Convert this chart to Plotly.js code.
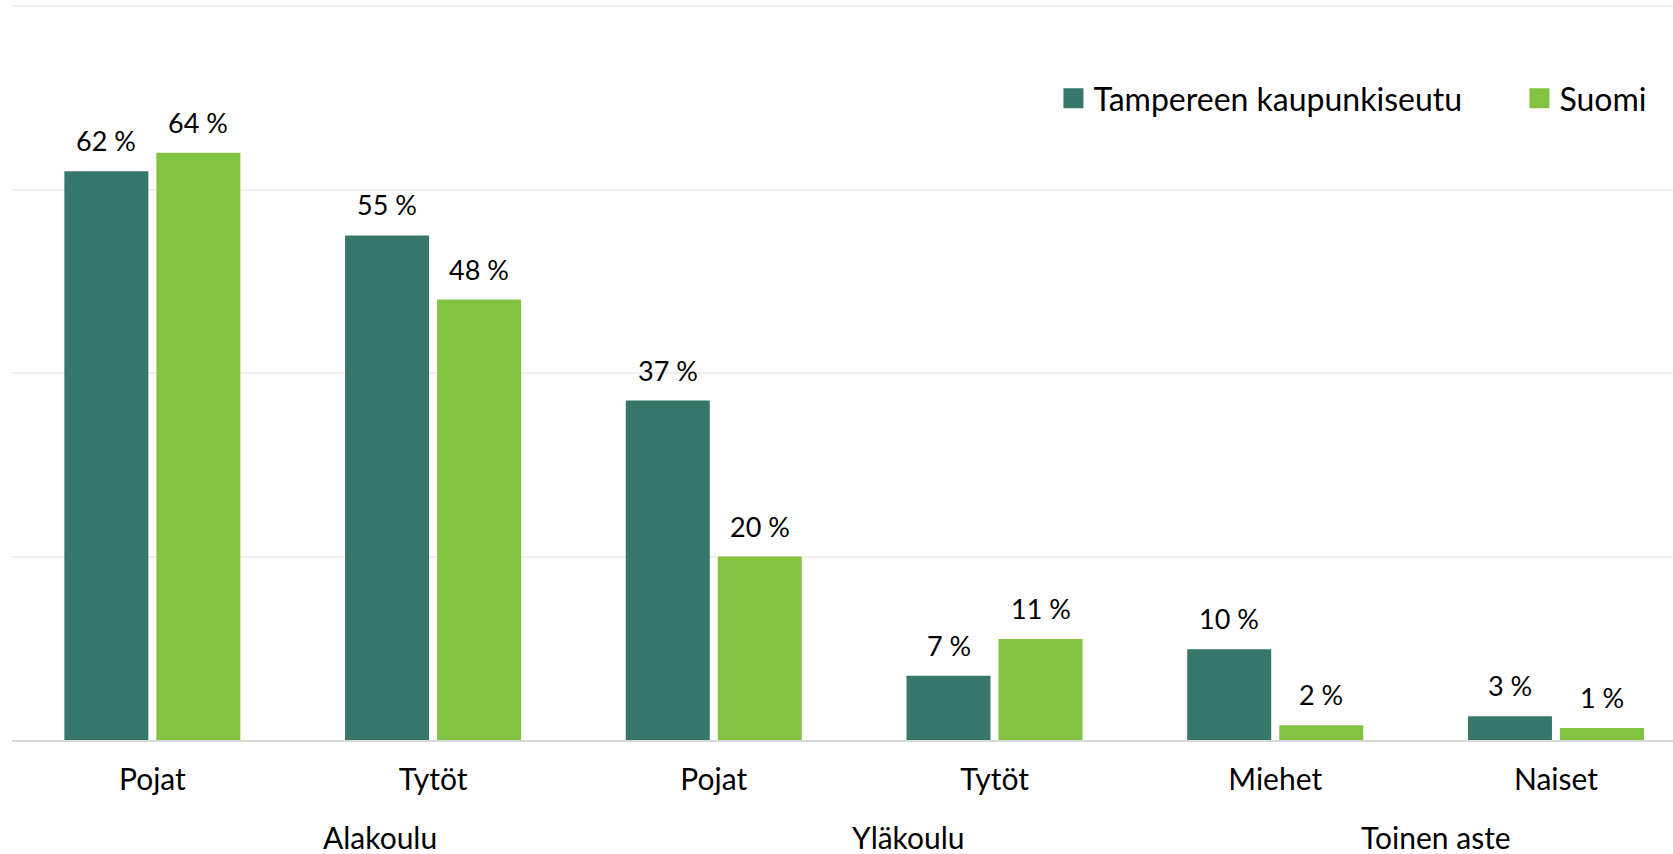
<!DOCTYPE html>
<html>
<head>
<meta charset="utf-8">
<script src="https://cdn.plot.ly/plotly-3.0.1.min.js"></script>
<style>
  html, body { margin: 0; padding: 0; background: #fff; }
  #chart { width: 1673px; height: 854px; }
</style>
</head>
<body>
<div id="chart"></div>
<script>
// ---- data ----
const subLabels = ["Pojat", "Tytöt", "Pojat", "Tytöt", "Miehet", "Naiset"];
const groupLabels = ["Alakoulu", "Yläkoulu", "Toinen aste"];
const seriesNames = ["Tampereen kaupunkiseutu", "Suomi"];
const tampereValues = [62, 55, 37, 7, 9.9, 2.6];
const suomiValues = [64, 48, 20, 11, 1.6, 1.3];

// ---- styling ----
const FONT = "Lato, 'Open Sans', sans-serif";
const colors = ["#37766B", "#83C342"];
const legendWidths = [421, 0];
const xIdx = subLabels.map((_, i) => i);
const fmt = v => Math.round(v) + " %";

const traces = [tampereValues, suomiValues].map((vals, k) => ({
  type: "bar",
  name: seriesNames[k],
  x: xIdx,
  y: vals,
  legendwidth: legendWidths[k],
  marker: { color: colors[k], line: { width: 0 } },
  hoverinfo: "skip"
}));

// data labels above each bar
const annotations = [];
[tampereValues, suomiValues].forEach((vals, k) => {
  vals.forEach((v, i) => {
    annotations.push({
      xref: "x", yref: "y", x: i, y: v,
      xshift: k === 0 ? -46 : 46,
      yanchor: "bottom", yshift: 12,
      showarrow: false,
      text: fmt(v),
      font: { family: FONT, size: 27, color: "#000" }
    });
  });
});
// group labels (second level of the category axis)
const groupPos = [0.811, 2.693, 4.571];
groupLabels.forEach((g, j) => {
  annotations.push({
    xref: "x", yref: "paper", x: groupPos[j], y: 0,
    yanchor: "top", yshift: -77,
    showarrow: false, text: g,
    font: { family: FONT, size: 30, color: "#000" }
  });
});

const layout = {
  width: 1673, height: 854,
  margin: { l: 12, r: 0, t: 1, b: 114 },
  paper_bgcolor: "#fff", plot_bgcolor: "#fff",
  font: { family: FONT, color: "#000" },
  barmode: "group",
  bargap: 0.3445,
  bargroupgap: 0.087,
  showlegend: true,
  legend: {
    orientation: "h",
    x: 0.627, xanchor: "left",
    y: 0.868, yanchor: "middle",
    font: { family: FONT, size: 32, color: "#000" },
    bgcolor: "rgba(0,0,0,0)",
    traceorder: "normal"
  },
  xaxis: {
    range: [-0.5, 5.417],
    tickmode: "array",
    tickvals: xIdx,
    ticktext: subLabels,
    showgrid: false, zeroline: false,
    showline: true, linecolor: "#d9d9d9", linewidth: 2,
    ticks: "",
    ticklabelstandoff: 12,
    tickfont: { family: FONT, size: 30, color: "#000" },
    fixedrange: true
  },
  yaxis: {
    range: [0, 80.545],
    tickmode: "array",
    tickvals: [0, 20, 40, 60, 80],
    showticklabels: false,
    showgrid: true, gridcolor: "#efefef", gridwidth: 2,
    zeroline: false,
    ticks: "",
    fixedrange: true
  },
  annotations: annotations
};

function enlargeLegendSymbols() {
  document.querySelectorAll("#chart .legend .legendpoints path").forEach(p => {
    p.setAttribute("d", "M10,10H-10V-10H10Z");
  });
}

const gd = document.getElementById("chart");
Plotly.newPlot(gd, traces, layout, { staticPlot: true, displayModeBar: false })
  .then(() => {
    enlargeLegendSymbols();
    gd.on && gd.on("plotly_afterplot", enlargeLegendSymbols);
  });
</script>
</body>
</html>
